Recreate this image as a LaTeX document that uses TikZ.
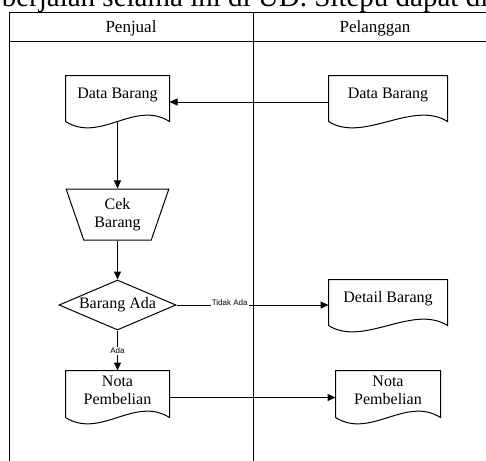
\documentclass[tikz,border=0pt]{standalone}
\usepackage{fontspec}
\setmainfont{Liberation Serif}
\newfontfamily\lblfont{Liberation Sans}
\usetikzlibrary{shapes.geometric, arrows.meta}
\newcommand\docwave[1]{\draw (#1.north west) -- (#1.north east) -- ([yshift=-7pt]#1.south east) .. controls +(-35,-22) and +(35,22) .. ([yshift=-7pt]#1.south west) -- cycle;}

\begin{document}
\begin{tikzpicture}[x=1pt, y=-1pt, line width=1pt, >={Triangle[length=8pt,width=7pt]},
    txt/.style={font=\fontsize{16}{18.5}\selectfont, align=center},
    doc/.style={txt, inner sep=0pt, minimum height=38pt},
    lbl/.style={font=\lblfont\fontsize{8}{9}\selectfont, fill=white, inner sep=1pt}]
    \useasboundingbox (0,0) rectangle (486,460);
    \node at (-2,7) [anchor=base west, font=\fontsize{29}{32}\selectfont] (judul) {berjalan selama ini di UD. Sitepu dapat di};

    \draw (9,13) rectangle (500,475);
    \draw (9,42) -- (500,42);
    \draw (253,13) -- (253,475);
    \node at (131,28) [font=\fontsize{17}{19}\selectfont] (penjual) {Penjual};
    \node at (375,28) [font=\fontsize{17}{19}\selectfont] (pelanggan) {Pelanggan};

    \node at (117.5,95) [doc, minimum width=103pt] (dbJ) {Data Barang};
    \node at (388,95) [doc, minimum width=118pt] (dbP) {Data Barang};
    \node at (117.5,214.5) [txt, draw, trapezium, trapezium stretches=true, shape border rotate=180, trapezium angle=70, minimum width=103pt, minimum height=51pt, inner sep=0pt] (cek) {Cek\\Barang};
    \node at (117.5,305) [txt, draw, diamond, aspect=2.34, minimum width=117pt, minimum height=50pt, inner sep=0pt] (brg) {Barang Ada};
    \node at (388,299) [doc, minimum width=118pt] (det) {Detail Barang};
    \node at (117.5,390.5) [doc, minimum width=103pt, minimum height=39pt] (notaJ) {Nota\\Pembelian};
    \node at (388,390.5) [doc, minimum width=104pt, minimum height=39pt] (notaP) {Nota\\Pembelian};
    \foreach \d in {dbJ, dbP, det, notaJ, notaP} \docwave{\d};

    \draw [->] ([yshift=-7pt]dbP.west) -- ([yshift=-7pt]dbJ.east);
    \draw [->] ([yshift=-7pt]dbJ.south) -- (cek);
    \draw [->] (cek) -- (brg);
    \draw [->] (brg) -- node [lbl, pos=0.51] {Ada} (notaJ);
    \draw [->] (brg.east) -- node [lbl, pos=0.35, yshift=2pt] {Tidak Ada} (brg.east -| det.west);
    \draw [->] ([yshift=-7pt]notaJ.east) -- ([yshift=-7pt]notaJ.east -| notaP.west);
\end{tikzpicture}
\end{document}
